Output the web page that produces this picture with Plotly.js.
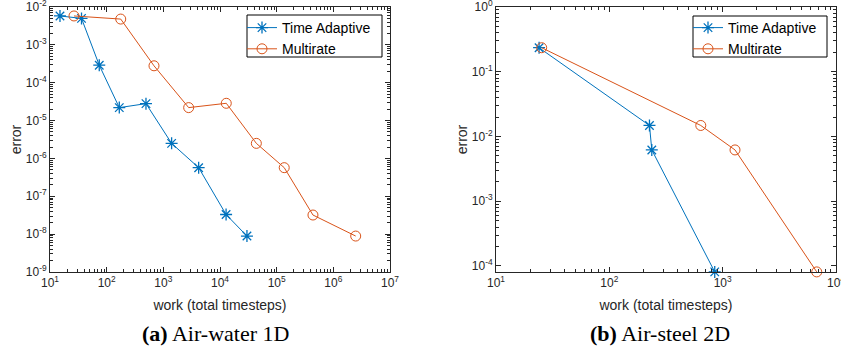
<!DOCTYPE html>
<html>
<head>
<meta charset="utf-8">
<script src="https://cdn.plot.ly/plotly-3.0.1.min.js"></script>
<style>html,body{margin:0;padding:0;background:#fff;}#chart{width:841px;height:351px;}</style>
</head>
<body>
<div id="chart"></div>
<script>
// ---- Data ----
const seriesNames = ["Time Adaptive", "Multirate"];

// (a) Air-water 1D
const awWorkTA = [15, 36, 74, 167, 494, 1400, 4200, 12800, 29900];
const awErrTA  = [5.8e-3, 5.0e-3, 2.9e-4, 2.2e-5, 2.8e-5, 2.5e-6, 5.7e-7, 3.3e-8, 8.9e-9];
const awWorkMR = [26.5, 177, 684, 2800, 12900, 43800, 136000, 437000, 2480000];
const awErrMR  = [5.8e-3, 4.8e-3, 2.8e-4, 2.2e-5, 2.86e-5, 2.5e-6, 5.7e-7, 3.2e-8, 8.9e-9];

// (b) Air-steel 2D
const asWorkTA = [24, 226, 237, 851];
const asErrTA  = [0.235, 0.0148, 0.0062, 8.1e-5];
const asWorkMR = [25.3, 641, 1285, 6760];
const asErrMR  = [0.235, 0.0148, 0.0062, 8.1e-5];

const captions = ["<b>(a)</b> Air-water 1D", "<b>(b)</b> Air-steel 2D"];
const xTitle = "work (total timesteps)";
const yTitle = "error";

// ---- Styling helpers ----
const blue = "#0072BD", orange = "#D95319", axc = "#262626";
const sans = "Liberation Sans, Arial, sans-serif";

function decadeTicks(lo, hi) {
  const vals = [], text = [];
  for (let p = lo; p <= hi; p++) {
    vals.push(Math.pow(10, p));
    text.push("10<sup>" + (p < 0 ? "-" : "") + Math.abs(p) + "</sup>");
  }
  return {vals, text};
}
function minorTicks(lo, hi) {
  const v = [];
  for (let p = lo; p < hi; p++) for (let k = 2; k <= 9; k++) v.push(k * Math.pow(10, p));
  return v;
}
function logAxis(lo, hi, rlo, rhi, domain, extra) {
  const t = decadeTicks(lo, hi);
  return Object.assign({
    type: "log", range: [rlo, rhi], domain: domain,
    tickmode: "array", tickvals: t.vals, ticktext: t.text,
    ticks: "inside", ticklen: 5, tickwidth: 1, tickcolor: axc,
    showline: true, linecolor: axc, linewidth: 1, mirror: "allticks",
    showgrid: false, zeroline: false, ticklabeloverflow: "allow",
    tickfont: {family: sans, size: 12, color: axc},
    minor: {tickmode: "array", tickvals: minorTicks(lo, hi), ticks: "inside", ticklen: 3, tickwidth: 1, tickcolor: axc, showgrid: false},
    automargin: false
  }, extra);
}

const lineTA = {color: blue, width: 1};
const lineMR = {color: orange, width: 1};
const mkTA = {symbol: "asterisk-open", size: 10, color: blue, line: {color: blue, width: 1.3}};
const mkMR = {symbol: "circle-open", size: 10, color: orange, line: {color: orange, width: 1}};

const traces = [
  {x: awWorkTA, y: awErrTA, name: seriesNames[0], mode: "lines+markers", line: lineTA, marker: mkTA, xaxis: "x", yaxis: "y", legend: "legend", cliponaxis: false},
  {x: awWorkMR, y: awErrMR, name: seriesNames[1], mode: "lines+markers", line: lineMR, marker: mkMR, xaxis: "x", yaxis: "y", legend: "legend", cliponaxis: false},
  {x: asWorkTA, y: asErrTA, name: seriesNames[0], mode: "lines+markers", line: lineTA, marker: mkTA, xaxis: "x2", yaxis: "y2", legend: "legend2", cliponaxis: false},
  {x: asWorkMR, y: asErrMR, name: seriesNames[1], mode: "lines+markers", line: lineMR, marker: mkMR, xaxis: "x2", yaxis: "y2", legend: "legend2", cliponaxis: false}
];

const W = 841, H = 351, ml = 50, mr = 5, mt = 7, mb = 79;
const pw = W - ml - mr, ph = H - mt - mb;
const d1 = [0, 340 / pw], d2 = [(496 - ml) / pw, 1];
const px = v => (v - ml) / pw;
const py = v => 1 - (v - mt) / ph;

const titleFont = {family: sans, size: 14, color: axc};
const legendCommon = {
  bgcolor: "rgba(0,0,0,0)", bordercolor: "rgba(0,0,0,0)", borderwidth: 0,
  font: {family: sans, size: 14, color: "#000000"},
  xanchor: "left", yanchor: "top", tracegroupgap: 0, itemwidth: 30
};
const legendBox = (x0, x1, y0, y1) => ({
  type: "rect", xref: "paper", yref: "paper", x0: px(x0), x1: px(x1), y0: py(y0), y1: py(y1),
  line: {color: "#000000", width: 1}, fillcolor: "#ffffff", layer: "above"
});

const layout = {
  width: W, height: H,
  margin: {l: ml, r: mr, t: mt, b: mb},
  paper_bgcolor: "#ffffff", plot_bgcolor: "#ffffff",
  showlegend: true,
  xaxis: logAxis(1, 7, 1, 7, d1, {anchor: "y", title: {text: xTitle, font: titleFont, standoff: 10}}),
  yaxis: logAxis(-9, -2, -9, -2, [0, 1], {anchor: "x", title: {text: yTitle, font: titleFont, standoff: 0}}),
  xaxis2: logAxis(1, 4, 1, 4, d2, {anchor: "y2", title: {text: xTitle, font: titleFont, standoff: 10}}),
  yaxis2: logAxis(-4, 0, -4.093, 0, [0, 1], {anchor: "x2", title: {text: yTitle, font: titleFont, standoff: 0}}),
  legend: Object.assign({x: px(242), y: py(12)}, legendCommon),
  legend2: Object.assign({x: px(688), y: py(12)}, legendCommon),
  shapes: [legendBox(247, 382, 15, 57), legendBox(693, 827, 16, 57)],
  annotations: [
    {text: captions[0], xref: "paper", yref: "paper", x: px(215), y: py(333), xanchor: "center", yanchor: "middle", showarrow: false, font: {family: "Liberation Serif, Times New Roman, serif", size: 22, color: "#000"}},
    {text: captions[1], xref: "paper", yref: "paper", x: px(660), y: py(333), xanchor: "center", yanchor: "middle", showarrow: false, font: {family: "Liberation Serif, Times New Roman, serif", size: 22, color: "#000"}}
  ]
};

Plotly.newPlot("chart", traces, layout, {displayModeBar: false, staticPlot: true});
</script>
</body>
</html>
